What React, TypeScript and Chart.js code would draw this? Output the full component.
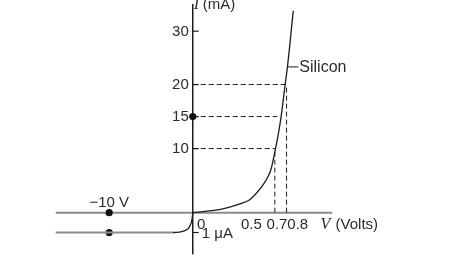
import React, { useEffect, useRef } from "react";
import { Chart, registerables } from "chart.js";

Chart.register(...registerables);

// ---- data (real units) ----
const forwardVolts = [0, 0.067, 0.179, 0.291, 0.402, 0.486, 0.542, 0.598, 0.64, 0.668, 0.687, 0.704, 0.723, 0.752, 0.788, 0.809, 0.857];
const forwardMilliamps = [0, 0.11, 0.35, 0.76, 1.36, 2.02, 3.03, 4.29, 5.56, 6.82, 8.33, 9.85, 11.6, 14.8, 20, 23.6, 33.8];

const reverseVolts = [-16.4, -2.4, -1.6, -1.1, -0.71, -0.45, -0.32, -0.2, -0.12, -0.06, -0.02, 0];
const reverseMicroamps = [-1, -1, -0.98, -0.93, -0.85, -0.76, -0.65, -0.53, -0.4, -0.25, -0.1, 0];

const yTickValues = [10, 15, 20, 30];
const yTickLabels = ["10", "15", "20", "30"];
const xTickValues = [0.5, 0.7, 0.8];
const xTickLabels = ["0.5", "0.7", "0.8"];

const guideCurrents = [10, 15, 20];
const guideEndVolts = [0.7, 0.72, 0.8];
const dropVolts = [0.7, 0.8];
const dropCurrents = [10, 20];

const reverseVoltage = -10;
const reverseCurrentMicro = -1;
const dotMilliamps = 15;

const siliconCurrent = 23.3;
const siliconVolts = [0.807, 0.9];

const xAxisRangeVolts = [-16.4, 1.19];
const yAxisBottomMicro = -2.1;

// ---- broken-axis transforms (real units -> plot units) ----
const NEG_V = 8.5 / 119.3; // reverse voltage compression
const HIGH_I = 5.5 / 6.6; // compression above 20 mA
const MICRO = 20.5 / 6.6; // microamp expansion below zero
const xp = (v: number) => (v >= 0 ? v : v * NEG_V);
const yp = (mA: number) => (mA <= 20 ? mA : 20 + (mA - 20) * HIGH_I);
const ypu = (uA: number) => uA * MICRO;

const INK = "#1c1c1c";
const TEXT = "#2b2b2b";
const GRAY = "#8c8c8c";
const SANS = "'Liberation Sans', Arial, sans-serif";
const SERIF = "'Liberation Serif', 'Times New Roman', serif";

export default function App() {
  const ref = useRef<HTMLCanvasElement | null>(null);

  useEffect(() => {
    if (!ref.current) return;

    const dashed = (pts: { x: number; y: number }[]) => ({
      data: pts,
      showLine: true,
      borderColor: INK,
      borderWidth: 1,
      borderDash: [5, 3],
      pointRadius: 0,
    });

    const datasets: any[] = [];
    guideCurrents.forEach((c, i) => {
      datasets.push(dashed([{ x: 0, y: yp(c) }, { x: xp(guideEndVolts[i]), y: yp(c) }]));
    });
    dropVolts.forEach((v, i) => {
      datasets.push(dashed([{ x: xp(v), y: 0 }, { x: xp(v), y: yp(dropCurrents[i]) }]));
    });
    datasets.push({
      data: forwardVolts.map((v, i) => ({ x: xp(v), y: yp(forwardMilliamps[i]) })),
      showLine: true,
      borderColor: INK,
      borderWidth: 1.3,
      pointRadius: 0,
      cubicInterpolationMode: "monotone",
    });
    datasets.push({
      data: reverseVolts.map((v, i) => ({ x: xp(v), y: ypu(reverseMicroamps[i]) })),
      showLine: true,
      borderColor: GRAY,
      borderWidth: 1.8,
      pointRadius: 0,
      cubicInterpolationMode: "monotone",
      segment: {
        borderColor: (ctx: any) => (ctx.p0.parsed.x > xp(-2.5) ? INK : GRAY),
        borderWidth: (ctx: any) => (ctx.p0.parsed.x > xp(-2.5) ? 1.3 : 1.8),
      },
    });
    datasets.push({
      data: siliconVolts.map((v) => ({ x: xp(v), y: yp(siliconCurrent) })),
      showLine: true,
      borderColor: INK,
      borderWidth: 1,
      pointRadius: 0,
    });
    datasets.push({
      data: [
        { x: 0, y: yp(dotMilliamps) },
        { x: xp(reverseVoltage), y: 0 },
        { x: xp(reverseVoltage), y: ypu(reverseCurrentMicro) },
      ],
      showLine: false,
      pointRadius: 3.6,
      pointBackgroundColor: "#111",
      pointBorderWidth: 0,
    });

    const axesPlugin = {
      id: "axesPlugin",
      beforeDatasetsDraw(chart: any) {
        const { ctx, scales } = chart;
        const x = scales.x;
        const y = scales.y;
        const x0 = x.getPixelForValue(0);
        const y0 = y.getPixelForValue(0);
        ctx.save();
        ctx.strokeStyle = GRAY;
        ctx.lineWidth = 2;
        ctx.beginPath();
        ctx.moveTo(x.getPixelForValue(xp(xAxisRangeVolts[0])), y0);
        ctx.lineTo(x.getPixelForValue(xp(xAxisRangeVolts[1])), y0);
        ctx.stroke();
        ctx.strokeStyle = INK;
        ctx.lineWidth = 1.5;
        ctx.beginPath();
        ctx.moveTo(x0, chart.chartArea.top);
        ctx.lineTo(x0, y.getPixelForValue(ypu(yAxisBottomMicro)));
        ctx.stroke();
        ctx.lineWidth = 1.2;
        const tickYs = yTickValues.map((v) => y.getPixelForValue(yp(v)));
        tickYs.push(y.getPixelForValue(ypu(reverseCurrentMicro)));
        tickYs.forEach((ty) => {
          ctx.beginPath();
          ctx.moveTo(x0, ty);
          ctx.lineTo(x0 + 6, ty);
          ctx.stroke();
        });
        ctx.restore();
      },
      afterDatasetsDraw(chart: any) {
        const { ctx, scales } = chart;
        const x = scales.x;
        const y = scales.y;
        const x0 = x.getPixelForValue(0);
        const y0 = y.getPixelForValue(0);
        ctx.save();
        ctx.fillStyle = TEXT;
        ctx.font = `15px ${SANS}`;
        ctx.textBaseline = "middle";
        ctx.textAlign = "right";
        yTickValues.forEach((v, i) => {
          ctx.fillText(yTickLabels[i], x0 - 4, y.getPixelForValue(yp(v)) + 0.5);
        });
        ctx.textAlign = "center";
        const xOffsets = [0, 2.2, 11.2];
        xTickValues.forEach((v, i) => {
          ctx.fillText(xTickLabels[i], x.getPixelForValue(xp(v)) + xOffsets[i], y0 + 12);
        });
        ctx.fillText("0", x0 + 8.5, y0 + 12);
        ctx.fillText("\u221210 V", x.getPixelForValue(xp(reverseVoltage)), y0 - 9.5);
        ctx.textAlign = "left";
        ctx.fillText("1 \u03bcA", x0 + 9, y.getPixelForValue(ypu(reverseCurrentMicro)) + 1.5);
        ctx.font = `16px ${SANS}`;
        ctx.fillText("Silicon", x.getPixelForValue(xp(siliconVolts[1])) + 1, y.getPixelForValue(yp(siliconCurrent)) + 1);
        const vx = x.getPixelForValue(xp(1.09));
        ctx.font = `italic 16px ${SERIF}`;
        ctx.fillText("V", vx, y0 + 12);
        ctx.font = `15px ${SANS}`;
        ctx.fillText("(Volts)", vx + 15, y0 + 12);
        ctx.font = `italic 16px ${SERIF}`;
        ctx.fillText("I", x0 + 1, 5);
        ctx.font = `15px ${SANS}`;
        ctx.fillText("(mA)", x0 + 10, 5);
        ctx.restore();
      },
    };

    const chart = new Chart(ref.current, {
      type: "scatter",
      data: { datasets },
      options: {
        responsive: false,
        animation: false,
        layout: { padding: 0 },
        plugins: { legend: { display: false }, tooltip: { enabled: false }, title: { display: false } },
        scales: {
          x: { type: "linear", display: false, min: -192 / 119.3, max: 280 / 119.3 },
          y: { type: "linear", display: false, min: -55 / 6.6, max: 215 / 6.6 },
        },
        events: [],
      },
      plugins: [axesPlugin],
    } as any);

    return () => chart.destroy();
  }, []);

  return (
    <div style={{ position: "absolute", left: 0, top: 0, width: 472, height: 270, background: "#fff" }}>
      <canvas ref={ref} width={472} height={270} style={{ display: "block" }} />
    </div>
  );
}
